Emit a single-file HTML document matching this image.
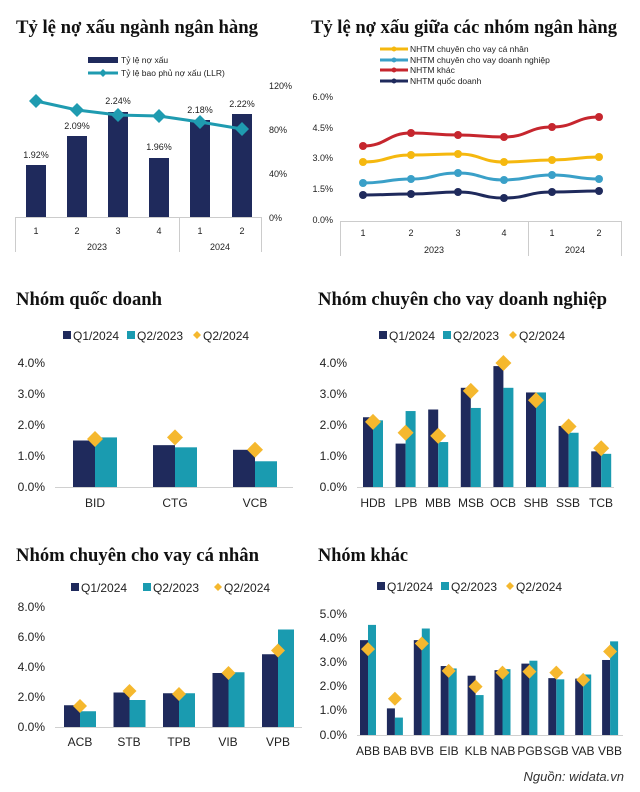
<!DOCTYPE html>
<html><head><meta charset="utf-8"><style>
html,body{margin:0;padding:0;background:#fff;}
svg{display:block;}
.t{font-family:"Liberation Serif",serif;font-weight:bold;font-size:19px;fill:#111;}
.s{font-family:"Liberation Sans",sans-serif;font-size:9px;fill:#222;}
.m{font-family:"Liberation Sans",sans-serif;font-size:12px;fill:#222;}
.l{font-family:"Liberation Sans",sans-serif;font-size:8.5px;fill:#222;}
</style></head><body>
<svg id="c" width="640" height="792" viewBox="0 0 640 792" xmlns="http://www.w3.org/2000/svg">
<rect width="640" height="792" fill="#fff"/>
<!-- Panel 1 -->
<text class="t" x="16" y="33" textLength="242" lengthAdjust="spacingAndGlyphs">Tỷ lệ nợ xấu ngành ngân hàng</text>
<rect x="88" y="57" width="30" height="6" fill="#1f2a5c"/>
<text class="l" x="121" y="63">Tỷ lệ nợ xấu</text>
<line x1="88" y1="73" x2="118" y2="73" stroke="#1f9bb0" stroke-width="3"/>
<path d="M103 69l4 4-4 4-4-4z" fill="#1f9bb0"/>
<text class="l" x="121" y="76">Tỷ lệ bao phủ nợ xấu (LLR)</text>
<text class="s" x="269" y="89">120%</text>
<text class="s" x="269" y="133">80%</text>
<text class="s" x="269" y="177">40%</text>
<text class="s" x="269" y="221">0%</text>
<g id="p1"></g>
<g stroke="#ccc" stroke-width="1">
<line x1="15" y1="217.5" x2="262" y2="217.5"/>
<line x1="15.5" y1="217" x2="15.5" y2="252"/>
<line x1="179.5" y1="217" x2="179.5" y2="252"/>
<line x1="261.5" y1="217" x2="261.5" y2="252"/>
</g>
<g class="s" text-anchor="middle">
<text x="36" y="234">1</text><text x="77" y="234">2</text><text x="118" y="234">3</text><text x="159" y="234">4</text><text x="200" y="234">1</text><text x="242" y="234">2</text>
<text x="97" y="250">2023</text><text x="220" y="250">2024</text>
<text x="36" y="158">1.92%</text><text x="77" y="129">2.09%</text><text x="118" y="104">2.24%</text><text x="159" y="150">1.96%</text><text x="200" y="113">2.18%</text><text x="242" y="107">2.22%</text>
</g>
<!-- Panel 2 -->
<text class="t" x="311" y="33" textLength="306" lengthAdjust="spacingAndGlyphs">Tỷ lệ nợ xấu giữa các nhóm ngân hàng</text>
<g stroke-width="3">
<line x1="380" y1="49" x2="408" y2="49" stroke="#f5b80f"/><line x1="380" y1="60" x2="408" y2="60" stroke="#3aa0c8"/>
<line x1="380" y1="70" x2="408" y2="70" stroke="#c6262e"/><line x1="380" y1="81" x2="408" y2="81" stroke="#1f2a5c"/>
</g>
<circle cx="394" cy="49" r="2.5" fill="#f5b80f"/><circle cx="394" cy="60" r="2.5" fill="#3aa0c8"/><circle cx="394" cy="70" r="2.5" fill="#c6262e"/><circle cx="394" cy="81" r="2.5" fill="#1f2a5c"/>
<text class="l" x="410" y="52">NHTM chuyên cho vay cá nhân</text>
<text class="l" x="410" y="63">NHTM chuyên cho vay doanh nghiệp</text>
<text class="l" x="410" y="73">NHTM khác</text>
<text class="l" x="410" y="84">NHTM quốc doanh</text>
<g class="s" text-anchor="end">
<text x="333" y="100">6.0%</text><text x="333" y="131">4.5%</text><text x="333" y="161">3.0%</text><text x="333" y="192">1.5%</text><text x="333" y="223">0.0%</text>
</g>
<g id="p2"></g>
<g stroke="#ccc" stroke-width="1">
<line x1="340" y1="221.5" x2="622" y2="221.5"/>
<line x1="340.5" y1="221" x2="340.5" y2="256"/>
<line x1="528.5" y1="221" x2="528.5" y2="256"/>
<line x1="621.5" y1="221" x2="621.5" y2="256"/>
</g>
<g class="s" text-anchor="middle">
<text x="363" y="236">1</text><text x="411" y="236">2</text><text x="458" y="236">3</text><text x="504" y="236">4</text><text x="552" y="236">1</text><text x="599" y="236">2</text>
<text x="434" y="253">2023</text><text x="575" y="253">2024</text>
</g>
<!-- Panel 3 -->
<text class="t" x="16" y="305" textLength="146" lengthAdjust="spacingAndGlyphs">Nhóm quốc doanh</text>
<g class="m">
<rect x="63" y="331" width="8" height="8" fill="#1f2a5c"/><text x="73" y="340">Q1/2024</text>
<rect x="127" y="331" width="8" height="8" fill="#1a9bb0"/><text x="137" y="340">Q2/2023</text>
<path d="M197 331l4 4-4 4-4-4z" fill="#f5b82e"/><text x="203" y="340">Q2/2024</text>
</g>
<g class="m" text-anchor="end">
<text x="45" y="367">4.0%</text><text x="45" y="398">3.0%</text><text x="45" y="429">2.0%</text><text x="45" y="460">1.0%</text><text x="45" y="491">0.0%</text>
</g>
<g id="p3"></g>
<line x1="55" y1="487.5" x2="293" y2="487.5" stroke="#d0d0d0"/>
<g class="m" text-anchor="middle"><text x="95" y="507">BID</text><text x="175" y="507">CTG</text><text x="255" y="507">VCB</text></g>
<!-- Panel 4 -->
<text class="t" x="318" y="305" textLength="289" lengthAdjust="spacingAndGlyphs">Nhóm chuyên cho vay doanh nghiệp</text>
<g class="m">
<rect x="379" y="331" width="8" height="8" fill="#1f2a5c"/><text x="389" y="340">Q1/2024</text>
<rect x="443" y="331" width="8" height="8" fill="#1a9bb0"/><text x="453" y="340">Q2/2023</text>
<path d="M513 331l4 4-4 4-4-4z" fill="#f5b82e"/><text x="519" y="340">Q2/2024</text>
</g>
<g class="m" text-anchor="end">
<text x="347" y="367">4.0%</text><text x="347" y="398">3.0%</text><text x="347" y="429">2.0%</text><text x="347" y="460">1.0%</text><text x="347" y="491">0.0%</text>
</g>
<g id="p4"></g>
<line x1="357" y1="487.5" x2="614" y2="487.5" stroke="#d0d0d0"/>
<g class="m" text-anchor="middle">
<text x="373" y="507">HDB</text><text x="406" y="507">LPB</text><text x="438" y="507">MBB</text><text x="471" y="507">MSB</text><text x="503" y="507">OCB</text><text x="536" y="507">SHB</text><text x="568" y="507">SSB</text><text x="601" y="507">TCB</text>
</g>
<!-- Panel 5 -->
<text class="t" x="16" y="561" textLength="243" lengthAdjust="spacingAndGlyphs">Nhóm chuyên cho vay cá nhân</text>
<g class="m">
<rect x="71" y="583" width="8" height="8" fill="#1f2a5c"/><text x="81" y="592">Q1/2024</text>
<rect x="143" y="583" width="8" height="8" fill="#1a9bb0"/><text x="153" y="592">Q2/2023</text>
<path d="M218 583l4 4-4 4-4-4z" fill="#f5b82e"/><text x="224" y="592">Q2/2024</text>
</g>
<g class="m" text-anchor="end">
<text x="45" y="611">8.0%</text><text x="45" y="641">6.0%</text><text x="45" y="671">4.0%</text><text x="45" y="701">2.0%</text><text x="45" y="731">0.0%</text>
</g>
<g id="p5"></g>
<line x1="55" y1="727.5" x2="302" y2="727.5" stroke="#d0d0d0"/>
<g class="m" text-anchor="middle">
<text x="80" y="746">ACB</text><text x="129" y="746">STB</text><text x="179" y="746">TPB</text><text x="228" y="746">VIB</text><text x="278" y="746">VPB</text>
</g>
<!-- Panel 6 -->
<text class="t" x="318" y="561" textLength="90" lengthAdjust="spacingAndGlyphs">Nhóm khác</text>
<g class="m">
<rect x="377" y="582" width="8" height="8" fill="#1f2a5c"/><text x="387" y="591">Q1/2024</text>
<rect x="441" y="582" width="8" height="8" fill="#1a9bb0"/><text x="451" y="591">Q2/2023</text>
<path d="M510 582l4 4-4 4-4-4z" fill="#f5b82e"/><text x="516" y="591">Q2/2024</text>
</g>
<g class="m" text-anchor="end">
<text x="347" y="618">5.0%</text><text x="347" y="642">4.0%</text><text x="347" y="666">3.0%</text><text x="347" y="690">2.0%</text><text x="347" y="714">1.0%</text><text x="347" y="739">0.0%</text>
</g>
<g id="p6"></g>
<line x1="357" y1="735.5" x2="623" y2="735.5" stroke="#d0d0d0"/>
<g class="m" text-anchor="middle" font-size="11.5">
<text x="368" y="755">ABB</text><text x="395" y="755">BAB</text><text x="422" y="755">BVB</text><text x="449" y="755">EIB</text><text x="476" y="755">KLB</text><text x="503" y="755">NAB</text><text x="530" y="755">PGB</text><text x="556" y="755">SGB</text><text x="583" y="755">VAB</text><text x="610" y="755">VBB</text>
</g>
<text x="624" y="781" text-anchor="end" font-family="Liberation Sans, sans-serif" font-style="italic" font-size="13" fill="#333">Nguồn: widata.vn</text>
</svg>
<script>
var NS="http://www.w3.org/2000/svg";
function el(g,t,a){var e=document.createElementNS(NS,t);for(var k in a)e.setAttribute(k,a[k]);document.getElementById(g).appendChild(e);return e;}
function dia(g,x,y,r,c){el(g,"path",{d:"M"+x+" "+(y-r)+"l"+r+" "+r+"-"+r+" "+r+"-"+r+"-"+r+"z",fill:c});}
var xs=[36,77,118,159,200,242],tops=[165,136,112,158,120,114],ly=[101,110,115,116,122,129];
xs.forEach(function(x,i){el("p1","rect",{x:x-10,y:tops[i],width:20,height:217-tops[i],fill:"#1f2a5c"});});
el("p1","polyline",{points:xs.map(function(x,i){return x+","+ly[i]}).join(" "),fill:"none",stroke:"#1f9bb0","stroke-width":3});
xs.forEach(function(x,i){dia("p1",x,ly[i],7,"#1f9bb0");});
var x2=[363,411,458,504,552,599];
var L=[["#c6262e",[146,133,135,137,127,117]],["#f5b80f",[162,155,154,162,160,157]],["#3aa0c8",[183,179,173,180,175,179]],["#1f2a5c",[195,194,192,198,192,191]]];
L.forEach(function(s){var pts=x2.map(function(x,i){return [x,s[1][i]]});
var d="M"+pts[0];for(var i=1;i<pts.length;i++){var p0=pts[i-1],p1=pts[i],mx=(p0[0]+p1[0])/2;d+=" C"+mx+","+p0[1]+" "+mx+","+p1[1]+" "+p1[0]+","+p1[1];}
el("p2","path",{d:d,fill:"none",stroke:s[0],"stroke-width":3});
pts.forEach(function(p){el("p2","circle",{cx:p[0],cy:p[1],r:4,fill:s[0]});});});
function bars(g,cx,bw,y0,u,a,b,c,dr){cx.forEach(function(x,i){
el(g,"rect",{x:x-bw,y:y0-a[i]*u,width:bw,height:a[i]*u,fill:"#1f2a5c"});
el(g,"rect",{x:x,y:y0-b[i]*u,width:bw,height:b[i]*u,fill:"#1a9bb0"});});
cx.forEach(function(x,i){dia(g,x,y0-c[i]*u,dr,"#f5b82e");});}
bars("p3",[95,175,255],22,487,31,[1.5,1.35,1.2],[1.6,1.28,0.83],[1.55,1.6,1.2],8);
var c4=[];for(var i=0;i<8;i++)c4.push(373+i*32.6);
bars("p4",c4,10,487,31,[2.25,1.4,2.5,3.2,3.9,3.05,1.97,1.15],[2.15,2.45,1.45,2.55,3.2,3.05,1.75,1.07],[2.1,1.75,1.65,3.1,4.0,2.8,1.95,1.25],8);
bars("p5",[80,129.5,179,228.5,278],16,727,15,[1.45,2.3,2.25,3.6,4.85],[1.05,1.8,2.25,3.65,6.5],[1.4,2.4,2.2,3.6,5.1],7);
var c6=[];for(var i=0;i<10;i++)c6.push(368+i*26.9);
bars("p6",c6,8,735,24.2,[3.92,1.1,3.92,2.85,2.45,2.68,2.95,2.35,2.33,3.1],[4.55,0.72,4.4,2.75,1.65,2.72,3.07,2.3,2.5,3.87],[3.55,1.5,3.78,2.65,2.0,2.58,2.62,2.58,2.28,3.45],7);
</script>
</body></html>
